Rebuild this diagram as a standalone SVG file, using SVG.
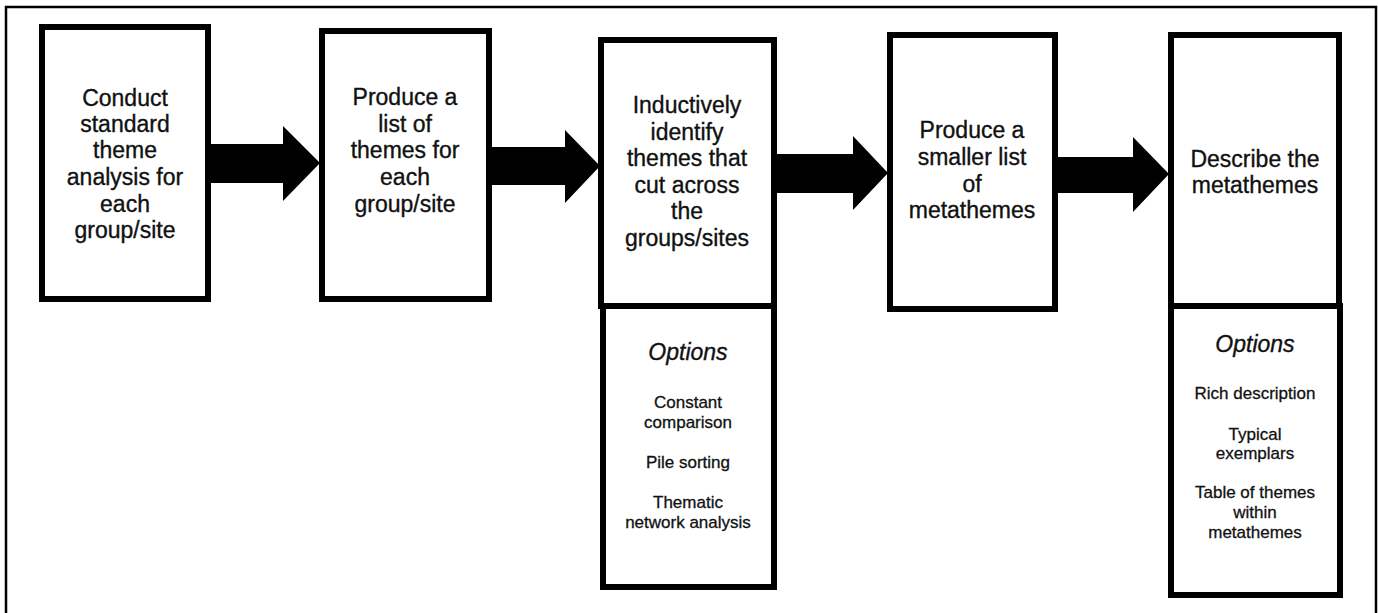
<svg xmlns="http://www.w3.org/2000/svg" width="1378" height="613" viewBox="0 0 1378 613">
<style>
.box{fill:#fff;stroke:#000;stroke-width:6}
.t{font-family:"Liberation Sans",Arial,sans-serif;font-size:23px;fill:#111;stroke:#111;stroke-width:0.35;text-anchor:middle}
.opt{font-family:"Liberation Sans",Arial,sans-serif;font-size:23px;font-style:italic;fill:#111;stroke:#111;stroke-width:0.35;text-anchor:middle}
.s{font-family:"Liberation Sans",Arial,sans-serif;font-size:17px;fill:#111;stroke:#111;stroke-width:0.3;text-anchor:middle}
.arr{fill:#000}
</style>
<rect width="1378" height="613" fill="#fff"/>
<path d="M6,613 V7 H1376 V613" fill="none" stroke="#000" stroke-width="2.5"/>
<g id="connectors">
<polygon class="arr" points="208,144 283,144 283,126 320,163 283,201 283,183 208,183"/>
<polygon class="arr" points="489,147 565,147 565,130 600,166 565,203 565,185 489,185"/>
<polygon class="arr" points="777,154 853,154 853,136 888,173 853,210 853,193 777,193"/>
<polygon class="arr" points="1056,157 1133,157 1133,137 1169,174 1133,212 1133,193 1056,193"/>
</g>
<g id="node1">
<rect class="box" x="42" y="27" width="166" height="272"/>
<text class="t"><tspan x="125" y="106">Conduct</tspan><tspan x="125" y="132">standard</tspan><tspan x="125" y="158">theme</tspan><tspan x="125" y="185">analysis for</tspan><tspan x="125" y="212">each</tspan><tspan x="125" y="238">group/site</tspan></text>
</g>
<g id="node2">
<rect class="box" x="322" y="31" width="167" height="268"/>
<text class="t"><tspan x="405" y="105">Produce a</tspan><tspan x="405" y="132">list of</tspan><tspan x="405" y="158">themes for</tspan><tspan x="405" y="185">each</tspan><tspan x="405" y="212">group/site</tspan></text>
</g>
<g id="node3">
<rect class="box" x="601" y="40" width="173" height="266"/>
<text class="t"><tspan x="687" y="113">Inductively</tspan><tspan x="687" y="140">identify</tspan><tspan x="687" y="166">themes that</tspan><tspan x="687" y="193">cut across</tspan><tspan x="687" y="219">the</tspan><tspan x="687" y="246">groups/sites</tspan></text>
</g>
<g id="node3-options">
<rect class="box" x="603" y="306" width="171" height="281"/>
<text class="opt" x="688" y="360">Options</text>
<text class="s"><tspan x="688" y="408">Constant</tspan><tspan x="688" y="428">comparison</tspan><tspan x="688" y="468">Pile sorting</tspan><tspan x="688" y="508">Thematic</tspan><tspan x="688" y="528">network analysis</tspan></text>
</g>
<g id="node4">
<rect class="box" x="890" y="35" width="165" height="274"/>
<text class="t"><tspan x="972" y="138">Produce a</tspan><tspan x="972" y="165">smaller list</tspan><tspan x="972" y="192">of</tspan><tspan x="972" y="218">metathemes</tspan></text>
</g>
<g id="node5">
<rect class="box" x="1171" y="35" width="168" height="272"/>
<text class="t"><tspan x="1255" y="167">Describe the</tspan><tspan x="1255" y="193">metathemes</tspan></text>
</g>
<g id="node5-options">
<rect class="box" x="1171" y="306" width="169" height="289"/>
<text class="opt" x="1255" y="352">Options</text>
<text class="s"><tspan x="1255" y="399">Rich description</tspan><tspan x="1255" y="440">Typical</tspan><tspan x="1255" y="459">exemplars</tspan><tspan x="1255" y="498">Table of themes</tspan><tspan x="1255" y="518">within</tspan><tspan x="1255" y="538">metathemes</tspan></text>
</g>
</svg>
